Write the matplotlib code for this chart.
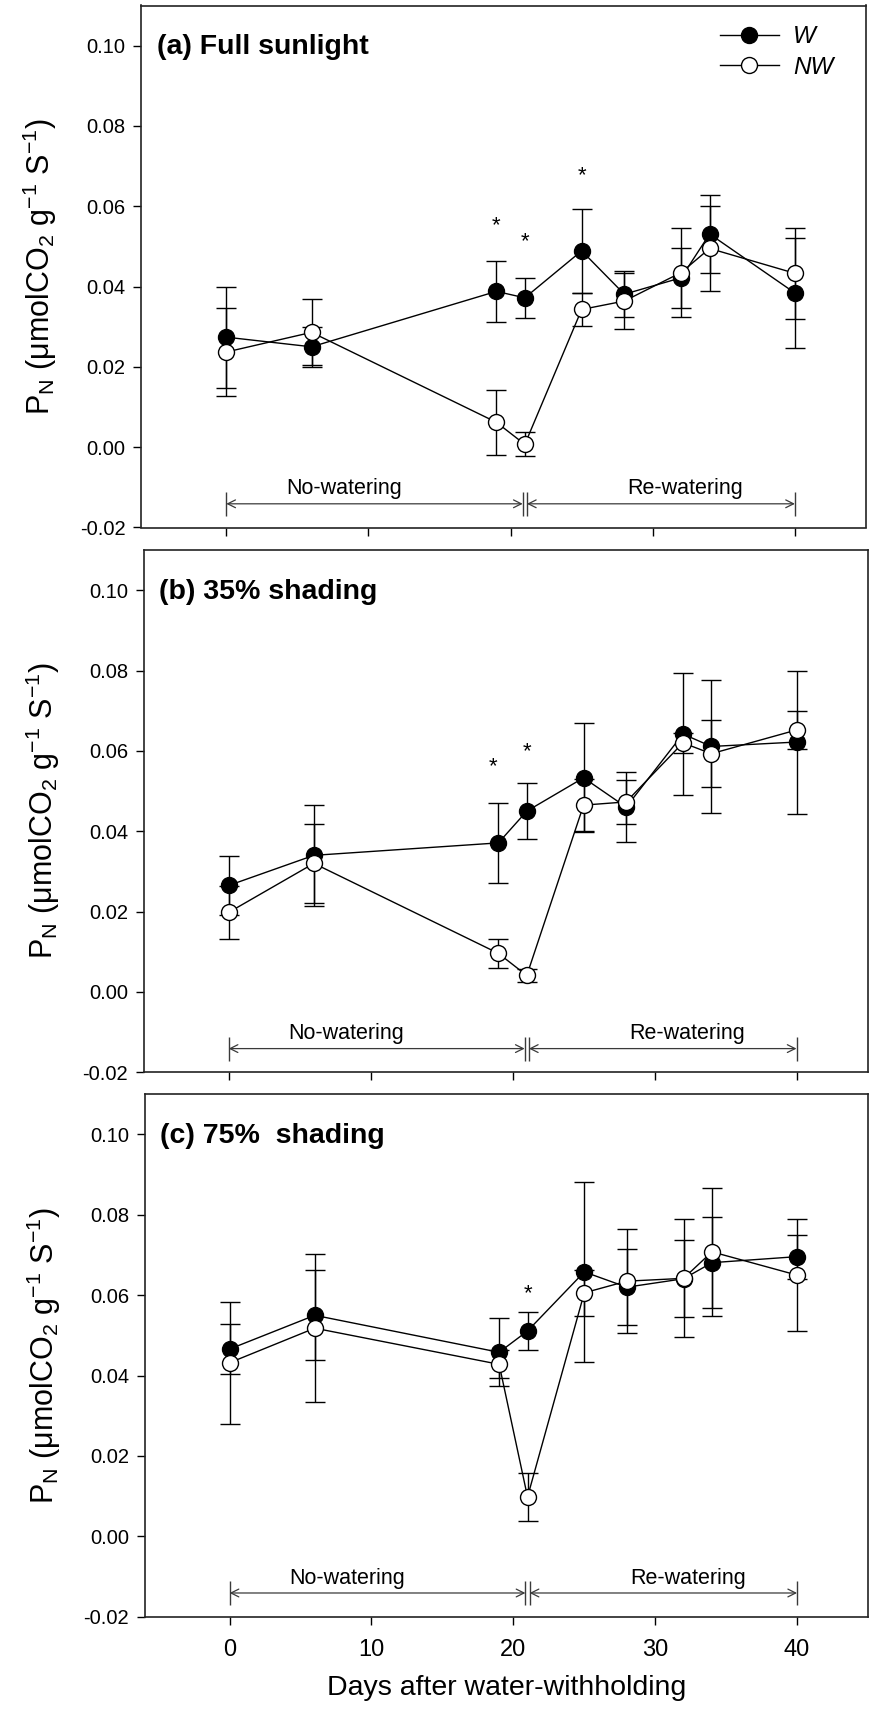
import numpy as np
import matplotlib.pyplot as plt
from matplotlib.lines import Line2D

# days after water-withholding
days = [0, 6, 19, 21, 25, 28, 32, 34, 40]

# (a) Full sunlight
W_a = [0.0274, 0.0250, 0.0388, 0.0372, 0.0489, 0.0381, 0.0422, 0.0531, 0.0384]
W_a_err = [0.0126, 0.0050, 0.0076, 0.0050, 0.0104, 0.0058, 0.0075, 0.0096, 0.0136]
NW_a = [0.0237, 0.0286, 0.0062, 0.0007, 0.0343, 0.0364, 0.0435, 0.0495, 0.0433]
NW_a_err = [0.0110, 0.0082, 0.0081, 0.0030, 0.0040, 0.0070, 0.0110, 0.0106, 0.0114]

# (b) 35% shading
W_b = [0.0265, 0.0340, 0.0371, 0.0450, 0.0533, 0.0460, 0.0642, 0.0611, 0.0622]
W_b_err = [0.0074, 0.0125, 0.0100, 0.0070, 0.0136, 0.0087, 0.0152, 0.0165, 0.0178]
NW_b = [0.0198, 0.0320, 0.0096, 0.0041, 0.0465, 0.0473, 0.0620, 0.0593, 0.0652]
NW_b_err = [0.0066, 0.0098, 0.0037, 0.0017, 0.0065, 0.0055, 0.0025, 0.0083, 0.0048]

# (c) 75% shading
W_c = [0.0466, 0.0550, 0.0458, 0.0511, 0.0658, 0.0620, 0.0641, 0.0681, 0.0696]
W_c_err = [0.0063, 0.0112, 0.0085, 0.0047, 0.0224, 0.0095, 0.0096, 0.0113, 0.0055]
NW_c = [0.0432, 0.0518, 0.0428, 0.0098, 0.0606, 0.0635, 0.0642, 0.0708, 0.0650]
NW_c_err = [0.0152, 0.0184, 0.0035, 0.0060, 0.0058, 0.0130, 0.0147, 0.0160, 0.0140]

# significance marks (day, height)
stars_a = [(19, 0.0552), (21, 0.0513), (25, 0.0675)]
stars_b = [(18.6, 0.0560), (21, 0.0598)]
stars_c = [(21, 0.0605)]

titles = ['(a) Full sunlight', '(b) 35% shading', '(c) 75%  shading']
phase_edges = [0, 21, 40]
phase_labels = ['No-watering', 'Re-watering']

plt.rcParams['font.family'] = ['Liberation Sans', 'DejaVu Sans']
plt.rcParams['mathtext.fontset'] = 'custom'
plt.rcParams['mathtext.rm'] = 'Liberation Sans'
plt.rcParams['axes.unicode_minus'] = False

fig = plt.figure(figsize=(8.72, 17.09), dpi=100)
W_px, H_px = 872, 1709
boxes = [(141, 866, 5.5, 527.5), (143.5, 867.5, 550, 1072.3), (144.5, 868, 1094.3, 1616.7)]

panels = [(W_a, W_a_err, NW_a, NW_a_err, stars_a),
          (W_b, W_b_err, NW_b, NW_b_err, stars_b),
          (W_c, W_c_err, NW_c, NW_c_err, stars_c)]

axes = []
for i, (l, r, t, b) in enumerate(boxes):
    ax = fig.add_axes([l / W_px, 1 - b / H_px, (r - l) / W_px, (b - t) / H_px])
    axes.append(ax)
    w, we, nw, nwe, stars = panels[i]

    ax.errorbar(days, w, yerr=we, fmt='-o', color='k', mfc='k', mec='k',
                ms=11.5, lw=1, elinewidth=1, capsize=7, capthick=1, label='W')
    ax.errorbar(days, nw, yerr=nwe, fmt='-o', color='k', mfc='white', mec='k',
                ms=11.5, lw=1, elinewidth=1, capsize=7, capthick=1, label='NW')

    for sx, sy in stars:
        ax.text(sx, sy, '*', ha='center', va='center', fontsize=16)

    # phase arrows
    ya = -0.0141
    gap = 0.15
    ax.annotate('', xy=(phase_edges[1] - gap, ya), xytext=(phase_edges[0], ya),
                arrowprops=dict(arrowstyle='<->', color='#3a3a3a', lw=0.9,
                                shrinkA=0, shrinkB=0, mutation_scale=14))
    ax.annotate('', xy=(phase_edges[2], ya), xytext=(phase_edges[1] + gap, ya),
                arrowprops=dict(arrowstyle='<->', color='#3a3a3a', lw=0.9,
                                shrinkA=0, shrinkB=0, mutation_scale=14))
    ax.vlines([phase_edges[0], phase_edges[1] - gap, phase_edges[1] + gap, phase_edges[2]],
              -0.0172, -0.0112, color='#3a3a3a', lw=1)
    ax.text((phase_edges[0] + phase_edges[1]) / 2 - 2.2, -0.0104, phase_labels[0],
            ha='center', va='center', fontsize=15.5)
    ax.text((phase_edges[1] + phase_edges[2]) / 2 + 1.8, -0.0104, phase_labels[1],
            ha='center', va='center', fontsize=15.5)

    ax.text(0.022, 0.92, titles[i], transform=ax.transAxes, fontsize=20.5,
            fontweight='bold', ha='left', va='center')

    ax.set_xlim(-6, 45)
    ax.set_ylim(-0.02, 0.11)
    ax.set_xticks([0, 10, 20, 30, 40])
    ax.set_yticks([-0.02, 0.00, 0.02, 0.04, 0.06, 0.08, 0.10])
    ax.set_yticklabels(['-0.02', '0.00', '0.02', '0.04', '0.06', '0.08', '0.10'])
    ax.tick_params(direction='out', length=6, width=1, colors='k')
    ax.tick_params(axis='y', labelsize=14.5, pad=5)
    ax.tick_params(axis='x', labelsize=17, pad=10)
    if i < 2:
        ax.set_xticklabels([])
    for sp in ax.spines.values():
        sp.set_linewidth(1.2)
        sp.set_color('#222222')

    ax.set_ylabel(r'P$_\mathregular{N}$ (μmolCO$_\mathregular{2}$ g$^\mathregular{-1}$ S$^\mathregular{-1}$)',
                  fontsize=22)
    ax.yaxis.set_label_coords(-0.113, 0.5)

axes[2].set_xlabel('Days after water-withholding', fontsize=20.5, labelpad=10)

handles = [Line2D([], [], color='k', marker='o', mfc='k', mec='k', ms=11.5, lw=1),
           Line2D([], [], color='k', marker='o', mfc='white', mec='k', ms=11.5, lw=1)]
axes[0].legend(handles, ['W', 'NW'], loc='upper right', bbox_to_anchor=(0.972, 0.985),
               frameon=False, handlelength=2.4, handletextpad=0.6,
               labelspacing=0.3, borderpad=0,
               prop=dict(family=['Liberation Sans', 'DejaVu Sans'], style='italic', size=17.5))

fig.savefig('out.png', dpi=100)
